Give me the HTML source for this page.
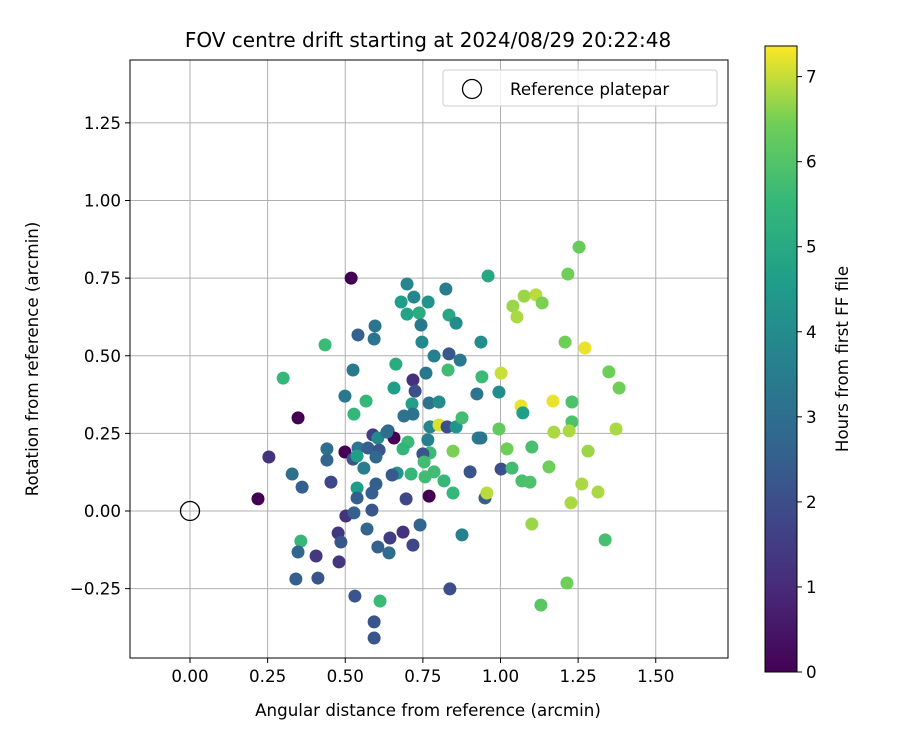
<!DOCTYPE html>
<html><head><meta charset="utf-8"><style>
body{margin:0;background:#fff;}
svg text{font-family:"DejaVu Sans","Liberation Sans",sans-serif;fill:#000;}
</style></head><body>
<svg id="chart" width="900" height="750" xmlns="http://www.w3.org/2000/svg">
<defs>
<linearGradient id="vir" x1="0" y1="1" x2="0" y2="0">
<stop offset="0" stop-color="#440154"/><stop offset="0.125" stop-color="#482878"/><stop offset="0.25" stop-color="#3e4989"/><stop offset="0.375" stop-color="#31688e"/><stop offset="0.5" stop-color="#26828e"/><stop offset="0.625" stop-color="#1f9e89"/><stop offset="0.75" stop-color="#35b779"/><stop offset="0.875" stop-color="#6ece58"/><stop offset="1" stop-color="#fde725"/>
</linearGradient>
</defs>
<g id="grid"></g>
<g id="pts"></g>
<g id="axes"></g>
<text x="428" y="47" text-anchor="middle" font-size="20">FOV centre drift starting at 2024/08/29 20:22:48</text>
<text x="428" y="716" text-anchor="middle" font-size="16.7">Angular distance from reference (arcmin)</text>
<text transform="translate(38,359) rotate(-90)" text-anchor="middle" font-size="16.7">Rotation from reference (arcmin)</text>
<g>
<rect x="443" y="70" width="274" height="36" rx="3" fill="#fff" fill-opacity="0.8" stroke="#ccc"/>
<circle cx="472" cy="89" r="9.5" fill="none" stroke="#000" stroke-width="1.3"/>
<text x="510" y="95" font-size="16.7">Reference platepar</text>
</g>
<g id="cbar">
<rect x="765" y="46" width="32" height="626" fill="url(#vir)" stroke="#000" stroke-width="1"/>
</g>
<text transform="translate(848,359) rotate(-90)" text-anchor="middle" font-size="16.7">Hours from first FF file</text>
</svg>
<script>
const xTicks=[0,0.25,0.5,0.75,1.0,1.25,1.5];
const xTickLabels=["0.00","0.25","0.50","0.75","1.00","1.25","1.50"];
const yTicks=[-0.25,0,0.25,0.5,0.75,1.0,1.25];
const yTickLabels=["\u22120.25","0.00","0.25","0.50","0.75","1.00","1.25"];
const cTicks=[0,1,2,3,4,5,6,7];
const xs=[0.435,0.300,0.541,0.596,0.593,0.348,0.525,0.499,0.567,0.528,0.663,0.718,0.760,0.657,0.725,0.715,0.689,0.718,0.770,0.802,0.786,0.834,0.870,0.831,0.699,0.738,0.744,0.834,0.857,0.747,0.680,0.767,0.699,0.824,0.721,0.589,0.638,0.605,0.657,0.702,0.686,0.773,0.802,0.828,0.857,0.876,0.766,0.847,0.773,0.750,0.754,0.786,0.757,0.818,0.847,0.902,0.928,0.770,0.696,0.712,0.667,0.651,0.599,0.586,0.538,0.538,0.441,0.441,0.499,0.541,0.573,0.609,0.525,0.538,0.599,0.560,0.254,0.329,0.361,0.454,0.219,0.502,0.528,0.586,0.477,0.486,0.570,0.644,0.686,0.605,0.641,0.718,0.741,0.876,0.357,0.348,0.406,0.480,0.341,0.412,0.531,0.612,0.593,0.593,0.837,0.519,1.253,1.217,0.960,1.076,1.114,1.134,1.040,1.053,1.208,1.272,0.937,0.940,1.002,1.349,1.382,0.924,0.995,1.066,1.072,1.169,1.230,1.230,0.937,0.995,1.172,1.221,1.372,0.634,1.021,1.101,1.282,1.002,1.037,1.156,1.069,1.095,1.262,1.314,1.227,0.950,0.956,1.101,1.337,1.130,1.214];
const ys=[0.535,0.428,0.567,0.596,0.554,0.300,0.454,0.370,0.354,0.312,0.473,0.422,0.444,0.396,0.386,0.345,0.306,0.312,0.348,0.351,0.499,0.506,0.486,0.454,0.634,0.638,0.599,0.631,0.605,0.544,0.673,0.673,0.731,0.715,0.689,0.245,0.258,0.235,0.235,0.222,0.200,0.271,0.277,0.271,0.271,0.300,0.229,0.193,0.187,0.184,0.158,0.126,0.110,0.097,0.058,0.126,0.235,0.048,0.039,0.119,0.122,0.116,0.087,0.058,0.074,0.042,0.200,0.164,0.190,0.203,0.203,0.196,0.167,0.177,0.174,0.138,0.174,0.119,0.077,0.093,0.039,-0.016,-0.006,0.003,-0.071,-0.100,-0.058,-0.087,-0.068,-0.116,-0.135,-0.110,-0.045,-0.077,-0.097,-0.132,-0.145,-0.164,-0.219,-0.216,-0.274,-0.290,-0.357,-0.409,-0.251,0.750,0.850,0.763,0.757,0.692,0.696,0.670,0.660,0.625,0.544,0.525,0.544,0.432,0.444,0.448,0.396,0.377,0.383,0.338,0.316,0.354,0.351,0.287,0.235,0.264,0.254,0.258,0.264,0.254,0.200,0.206,0.193,0.135,0.138,0.142,0.097,0.093,0.087,0.061,0.026,0.042,0.058,-0.042,-0.093,-0.303,-0.232];
const hours=[5.6,5.5,2.5,3.2,3.2,0,3.3,3.3,5.5,5.5,5.1,1.2,3.3,4.6,2,4.7,3.1,3.1,3.1,4,3.6,2.3,3.3,5.7,4.8,5.1,3.3,4.9,4,3.9,4.6,4.2,3.8,3.5,3.8,1.5,2.4,3.9,0,5.6,5.4,3.8,7.1,2,4.3,5.7,3.6,6.5,5.6,2.2,5.7,5.7,5.7,5.5,5.5,2.2,3.5,0,1.8,5.5,4.3,2.3,2.5,2.5,4.6,2.5,3,2.7,0,3.2,2.5,2.2,2.2,4.6,2.8,3.5,1.2,3,2.5,1.8,0,1.2,2.5,2.2,1.3,2.2,2.7,1.5,1.2,2.6,2.9,1.8,2.7,3.6,5.5,2.7,1.4,1.3,2.5,2.2,2.2,5.6,2.2,2.2,2,0,6.3,6.4,4.9,6.7,6.9,6.5,6.7,6.8,6.4,7.2,4,5.6,7,6.4,6.4,3.2,4,7.2,4.6,7.2,5.9,5.9,3.2,6.2,6.8,6.8,6.8,3,6.4,5.8,6.7,2.0,5.7,6.4,5.8,5.9,6.8,6.8,6.8,2.5,6.9,6.7,5.8,6.1,6.4];
const L=130,R=728,T=60,B=658;
const X=v=>190+v*310.5, Y=v=>511-v*310.5;
const cmax=7.36, CY=v=>672-v*(626/cmax);
const vir=[[68,1,84],[72,40,120],[62,73,137],[49,104,142],[38,130,142],[31,158,137],[53,183,121],[110,206,88],[253,231,37]];
function color(h){let t=Math.max(0,Math.min(1,h/7.33))*8;let i=Math.min(7,Math.floor(t)),f=t-i;const a=vir[i],b=vir[i+1];return `rgb(${a.map((c,k)=>Math.round(c+(b[k]-c)*f)).join(',')})`;}
const NS="http://www.w3.org/2000/svg";
function mk(tag,attrs,parent){const e=document.createElementNS(NS,tag);for(const k in attrs)e.setAttribute(k,attrs[k]);parent.appendChild(e);return e;}
const grid=document.getElementById('grid'),axes=document.getElementById('axes'),pts=document.getElementById('pts'),cbar=document.getElementById('cbar');
xTicks.forEach((v,i)=>{
 const g=mk('line',{x1:X(v),x2:X(v),y1:T,y2:B,stroke:'#b0b0b0','stroke-width':1},grid);
 
 
 const t=mk('line',{x1:X(v),x2:X(v),y1:B,y2:B+5,stroke:'#000'},axes);
 
 
 const tx=mk('text',{x:X(v),y:B+24,'text-anchor':'middle','font-size':16.7},axes);
 tx.textContent=xTickLabels[i];
 
 
});
yTicks.forEach((v,i)=>{
 const g=mk('line',{x1:L,x2:R,y1:Y(v),y2:Y(v),stroke:'#b0b0b0','stroke-width':1},grid);
 
 
 const t=mk('line',{x1:L-5,x2:L,y1:Y(v),y2:Y(v),stroke:'#000'},axes);
 
 
 const tx=mk('text',{x:L-9,y:Y(v)+6,'text-anchor':'end','font-size':16.7},axes);
 tx.textContent=yTickLabels[i];
 
 
});
const fr=mk('rect',{x:L,y:T,width:R-L,height:B-T,fill:'none',stroke:'#000','stroke-width':1},axes);


const ref=mk('circle',{cx:X(0),cy:Y(0),r:9.5,fill:'none',stroke:'#000','stroke-width':1.3},axes);


xs.forEach((v,i)=>{
 const c=mk('circle',{cx:X(v),cy:Y(ys[i]),r:6.5,fill:color(hours[i])},pts);
 
 
});
cTicks.forEach(v=>{
 const t=mk('line',{x1:797,x2:802,y1:CY(v),y2:CY(v),stroke:'#000'},cbar);
 
 
 const tx=mk('text',{x:806,y:CY(v)+6,'font-size':16.7},cbar);
 tx.textContent=String(v);
 
 
});
</script>
</body></html>
